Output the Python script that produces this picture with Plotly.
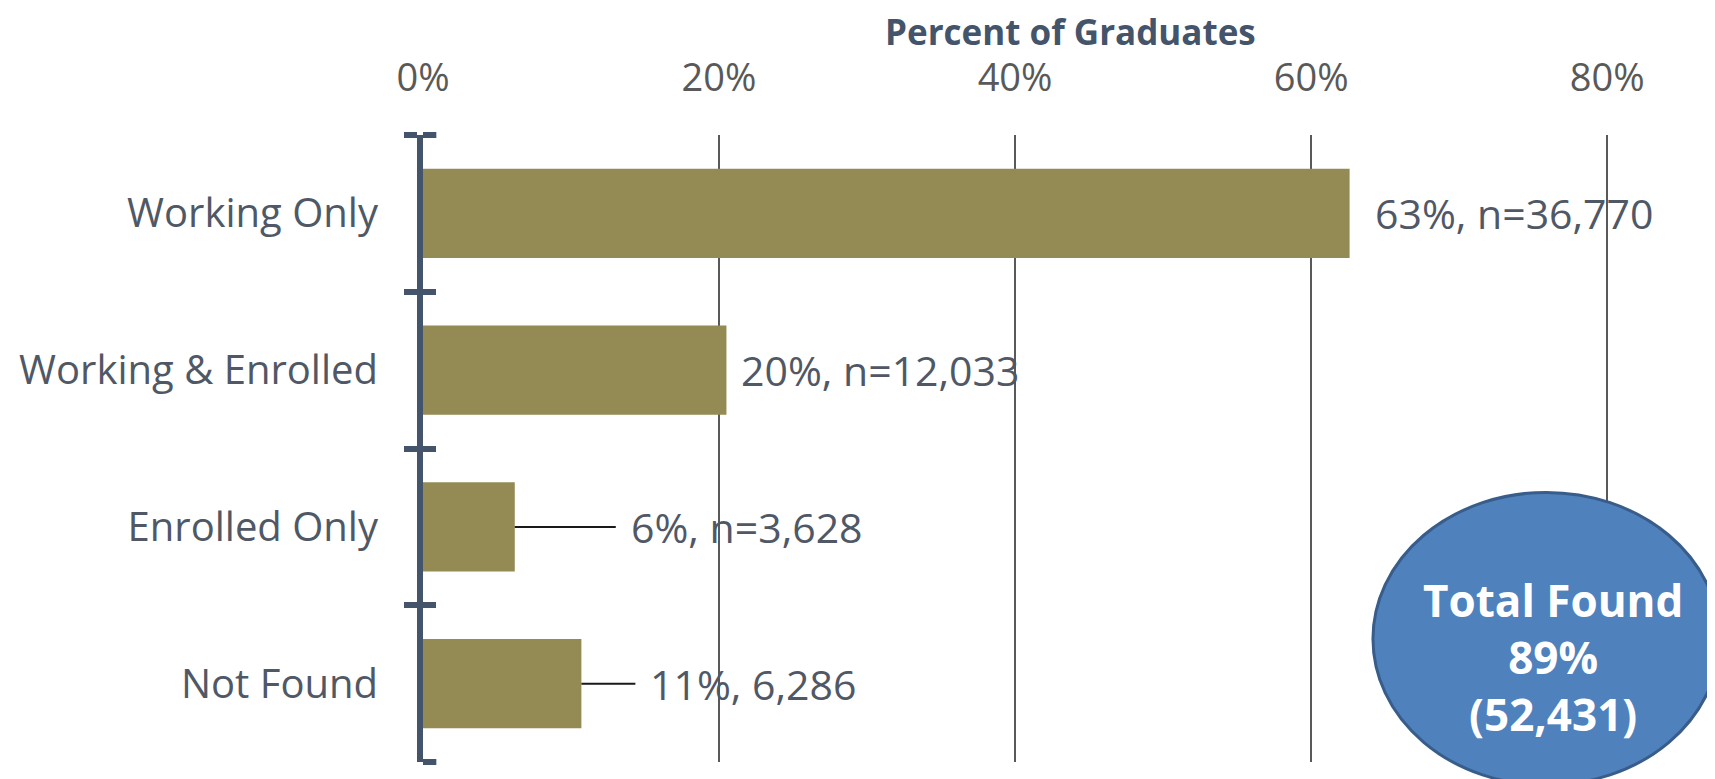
import plotly.graph_objects as go

categories = ["Working Only", "Working & Enrolled", "Enrolled Only", "Not Found"]
percents = [62.6, 20.5, 6.2, 10.7]
labels = ["63%, n=36,770", "20%, n=12,033", "6%, n=3,628", "11%, 6,286"]
tick_vals = [0, 20, 40, 60, 80]
tick_text = ["0%", "20%", "40%", "60%", "80%"]
total_lines = ["Total Found", "89%", "(52,431)"]

FONT = "Open Sans"
AXIS_COL = "#44546A"
TEXT_COL = "#505866"
BAR_COL = "#948A54"

fig = go.Figure()
fig.add_trace(go.Bar(
    x=percents, y=categories, orientation="h",
    marker=dict(color=BAR_COL, line=dict(width=0)),
    width=0.57, hoverinfo="skip", showlegend=False,
))
# invisible trace to carry the inside caps of the vertical axis
fig.add_trace(go.Scatter(
    x=percents, y=categories, yaxis="y2", mode="markers",
    marker=dict(opacity=0), hoverinfo="skip", showlegend=False,
))

# data labels: offsets (px) per bar
offsets = [23, 13, 101, 54]
leaders = [False, False, True, True]
for cat, val, lab, off, lead in zip(categories, percents, labels, offsets, leaders):
    if lead:
        fig.add_annotation(
            x=val, y=cat, text=lab, showarrow=True, arrowhead=0,
            arrowwidth=2, arrowcolor="#1a1a1a", ax=off, ay=0,
            xanchor="left", yanchor="middle", standoff=0, borderpad=14,
            font=dict(family=FONT, size=41, color=TEXT_COL),
        )
    else:
        fig.add_annotation(
            x=val, y=cat, text=lab, showarrow=False, xanchor="left",
            yanchor="middle", xshift=off,
            font=dict(family=FONT, size=41, color=TEXT_COL),
        )

fig.add_annotation(
    xref="paper", yref="paper", x=0.51, y=1.0, yshift=104,
    xanchor="center", yanchor="middle",
    text="<b>Percent of Graduates</b>", showarrow=False,
    font=dict(family=FONT, size=35, color=AXIS_COL),
)

# inside halves of the end caps of the vertical axis (inside ticks at range ends are clipped)
for yp in (0, 1):
    fig.add_shape(
        type="line", xref="paper", yref="paper", x0=0, x1=0.0105, y0=yp, y1=yp,
        line=dict(color=AXIS_COL, width=6), layer="above",
    )

# Total found ellipse
fig.add_shape(
    type="circle", xref="paper", yref="paper",
    x0=0.748, x1=1.021, y0=-0.037, y1=0.43,
    fillcolor="#4F81BD", line=dict(color="#385D8A", width=3), layer="above",
)
fig.add_annotation(
    xref="paper", yref="paper", x=0.890, y=0.167,
    xanchor="center", yanchor="middle",
    text="<b>" + "<br>".join(total_lines) + "</b>", showarrow=False,
    align="center", font=dict(family=FONT, size=44, color="white"),
)

fig.update_layout(
    width=1715, height=779,
    margin=dict(l=415, r=30, t=127, b=25),
    paper_bgcolor="white", plot_bgcolor="white",
    bargap=0.43,
    xaxis=dict(
        range=[0, 85.8], side="top", tickvals=tick_vals, ticktext=tick_text,
        showgrid=True, gridcolor="#595959", gridwidth=1.5, zeroline=False,
        showline=False, ticks="", ticklabelstandoff=35,
        tickfont=dict(family=FONT, size=38, color="#595959"),
    ),
    yaxis=dict(
        categoryorder="array", categoryarray=categories, range=[3.5, -0.5],
        showline=True, linecolor=AXIS_COL, linewidth=6,
        ticks="outside", tickson="boundaries", ticklen=13, tickwidth=6,
        tickcolor=AXIS_COL, showgrid=False, ticklabelstandoff=31,
        tickfont=dict(family=FONT, size=40, color=TEXT_COL),
    ),
    yaxis2=dict(
        overlaying="y", side="left", anchor="x",
        categoryorder="array", categoryarray=categories, range=[3.5, -0.5],
        showline=False, ticks="inside", tickson="boundaries", ticklen=13,
        tickwidth=6, tickcolor=AXIS_COL, showticklabels=False, showgrid=False,
    ),
)

fig.write_html("out.html")
